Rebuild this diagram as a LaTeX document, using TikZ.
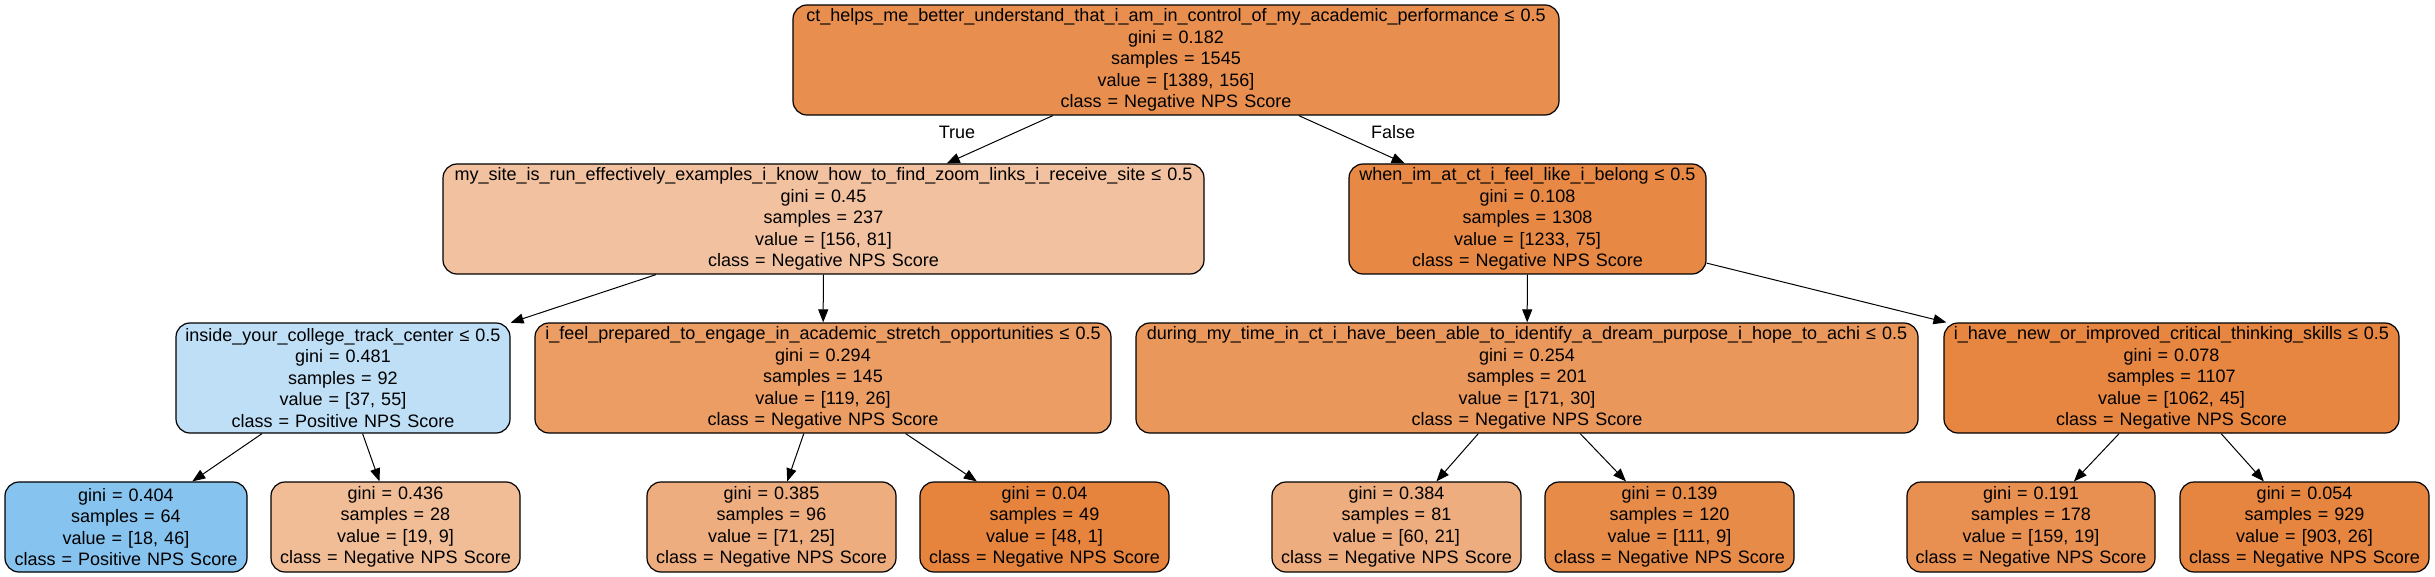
\documentclass[tikz,border=0pt]{standalone}
\usepackage{fontspec}
\setmainfont{Liberation Sans}
\usetikzlibrary{arrows.meta}
\definecolor{cRoot}{RGB}{232,143,79}
\definecolor{cSite}{RGB}{242,194,160}
\definecolor{cWhen}{RGB}{231,137,69}
\definecolor{cInside}{RGB}{190,223,246}
\definecolor{cFeel}{RGB}{235,157,100}
\definecolor{cDuring}{RGB}{234,151,92}
\definecolor{cHave}{RGB}{230,134,65}
\definecolor{cLa}{RGB}{135,195,239}
\definecolor{cLb}{RGB}{241,189,151}
\definecolor{cLc}{RGB}{238,173,127}
\definecolor{cLd}{RGB}{230,132,61}
\definecolor{cLe}{RGB}{238,173,126}
\definecolor{cLf}{RGB}{231,139,73}
\definecolor{cLg}{RGB}{232,144,81}
\definecolor{cLh}{RGB}{230,133,63}
\tikzset{
  treebox/.style={draw=black, line width=1.2pt, rounded corners=14pt, inner sep=0pt,
    align=center, font=\fontsize{18}{21.5}\selectfont, minimum height=110pt},
  leafbox/.style={treebox, minimum height=90pt},
  edge/.style={line width=1pt, -{Triangle[length=13pt,width=10pt]}},
  elabel/.style={font=\fontsize{18}{21.5}\selectfont, inner sep=0pt}
}
\begin{document}
\begin{tikzpicture}[x=1pt,y=-1pt]
\useasboundingbox (0,0) rectangle (2435,577);
\node[treebox, fill=cRoot, text width=766pt] (root) at (1176,60)
  {ct\_helps\_me\_better\_understand\_that\_i\_am\_in\_control\_of\_my\_academic\_performance ≤ 0.5\\gini = 0.182\\samples = 1545\\value = [1389, 156]\\class = Negative NPS Score};
\node[treebox, fill=cSite, text width=761pt] (site) at (823.5,219)
  {my\_site\_is\_run\_effectively\_examples\_i\_know\_how\_to\_find\_zoom\_links\_i\_receive\_site ≤ 0.5\\gini = 0.45\\samples = 237\\value = [156, 81]\\class = Negative NPS Score};
\node[treebox, fill=cWhen, text width=357pt] (when) at (1527.5,219)
  {when\_im\_at\_ct\_i\_feel\_like\_i\_belong ≤ 0.5\\gini = 0.108\\samples = 1308\\value = [1233, 75]\\class = Negative NPS Score};
\node[treebox, fill=cInside, text width=334pt] (inside) at (343,378)
  {inside\_your\_college\_track\_center ≤ 0.5\\gini = 0.481\\samples = 92\\value = [37, 55]\\class = Positive NPS Score};
\node[treebox, fill=cFeel, text width=576pt] (feel) at (823,378)
  {i\_feel\_prepared\_to\_engage\_in\_academic\_stretch\_opportunities ≤ 0.5\\gini = 0.294\\samples = 145\\value = [119, 26]\\class = Negative NPS Score};
\node[treebox, fill=cDuring, text width=782pt] (during) at (1527,378)
  {during\_my\_time\_in\_ct\_i\_have\_been\_able\_to\_identify\_a\_dream\_purpose\_i\_hope\_to\_achi ≤ 0.5\\gini = 0.254\\samples = 201\\value = [171, 30]\\class = Negative NPS Score};
\node[treebox, fill=cHave, text width=455pt] (have) at (2171.5,378)
  {i\_have\_new\_or\_improved\_critical\_thinking\_skills ≤ 0.5\\gini = 0.078\\samples = 1107\\value = [1062, 45]\\class = Negative NPS Score};
\node[leafbox, fill=cLa, text width=242pt] (la) at (126,527)
  {gini = 0.404\\samples = 64\\value = [18, 46]\\class = Positive NPS Score};
\node[leafbox, fill=cLb, text width=249pt] (lb) at (395.5,527)
  {gini = 0.436\\samples = 28\\value = [19, 9]\\class = Negative NPS Score};
\node[leafbox, fill=cLc, text width=249pt] (lc) at (771.5,527)
  {gini = 0.385\\samples = 96\\value = [71, 25]\\class = Negative NPS Score};
\node[leafbox, fill=cLd, text width=249pt] (ld) at (1044.5,527)
  {gini = 0.04\\samples = 49\\value = [48, 1]\\class = Negative NPS Score};
\node[leafbox, fill=cLe, text width=249pt] (le) at (1396.5,527)
  {gini = 0.384\\samples = 81\\value = [60, 21]\\class = Negative NPS Score};
\node[leafbox, fill=cLf, text width=249pt] (lf) at (1669.5,527)
  {gini = 0.139\\samples = 120\\value = [111, 9]\\class = Negative NPS Score};
\node[leafbox, fill=cLg, text width=248pt] (lg) at (2031,527)
  {gini = 0.191\\samples = 178\\value = [159, 19]\\class = Negative NPS Score};
\node[leafbox, fill=cLh, text width=249pt] (lh) at (2304.5,527)
  {gini = 0.054\\samples = 929\\value = [903, 26]\\class = Negative NPS Score};
\draw[edge] (root) -- (site);
\draw[edge] (root) -- (when);
\draw[edge] (site) -- (inside);
\draw[edge] (site) -- (feel);
\draw[edge] (when) -- (during);
\draw[edge] (when) -- (have);
\draw[edge] (inside) -- (la);
\draw[edge] (inside) -- (lb);
\draw[edge] (feel) -- (lc);
\draw[edge] (feel) -- (ld);
\draw[edge] (during) -- (le);
\draw[edge] (during) -- (lf);
\draw[edge] (have) -- (lg);
\draw[edge] (have) -- (lh);
\node[elabel] (ltrue) at (957,132) {True};
\node[elabel] (lfalse) at (1393,132) {False};
\end{tikzpicture}
\end{document}
